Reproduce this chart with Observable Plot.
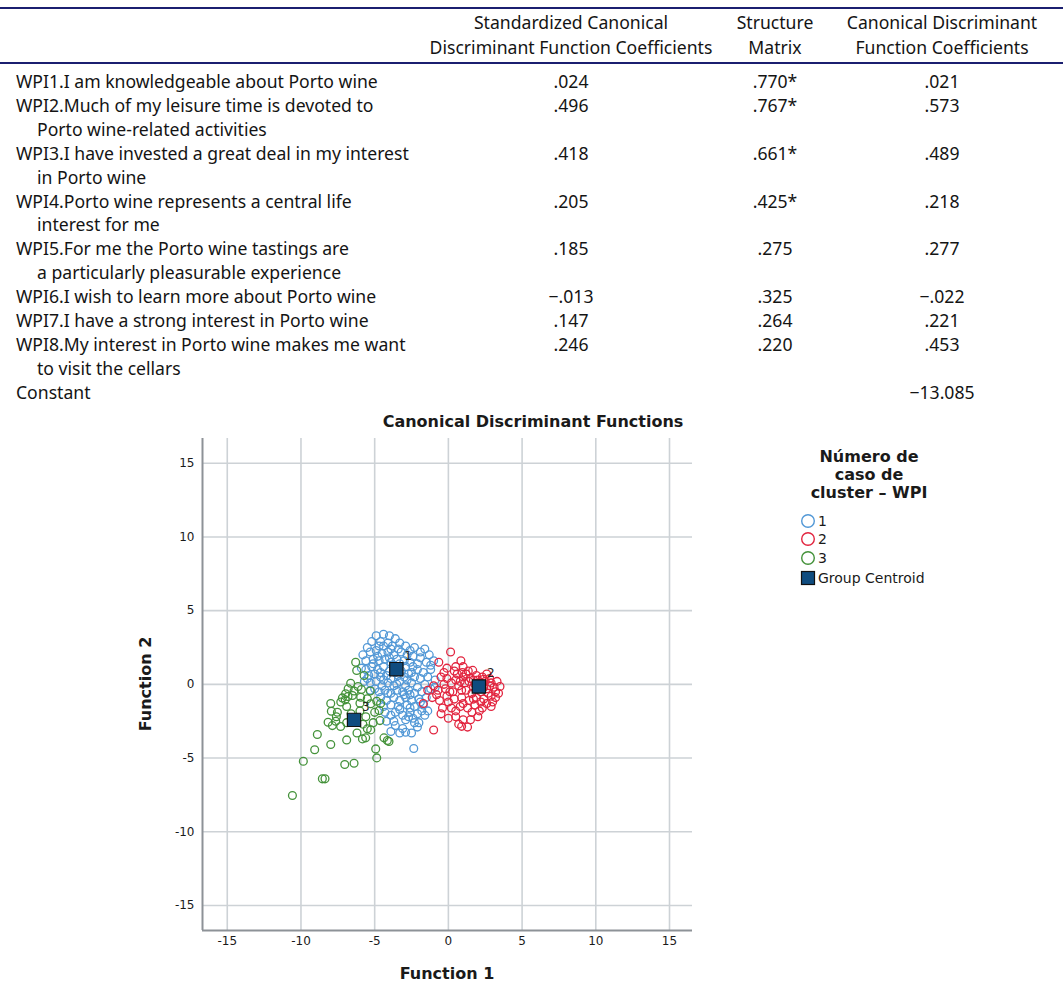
<!DOCTYPE html>
<html><head><meta charset="utf-8">
<script src="https://cdn.jsdelivr.net/npm/d3@7"></script>
<script src="https://cdn.jsdelivr.net/npm/@observablehq/plot@0.6"></script>
<style>
body{margin:0;background:#fff;}
#root{position:relative;width:1063px;height:986px;overflow:hidden;font-family:"Noto Sans",sans-serif;color:#141414;}
.t{position:absolute;white-space:nowrap;font-size:17.6px;line-height:20px;}
.rule{position:absolute;left:0;width:1063px;height:2px;background:#1b1f70;}
.ch{position:absolute;white-space:nowrap;font-family:"DejaVu Sans",sans-serif;font-weight:bold;color:#1a1a1a;line-height:18px;}
.lg{position:absolute;white-space:nowrap;font-family:"DejaVu Sans",sans-serif;font-size:14px;color:#1a1a1a;line-height:18px;}
#plot{position:absolute;left:0;top:430px;}
</style></head><body><div id="root"></div>
<script>
// ---------- table data ----------
const headerCol1 = ["Standardized Canonical", "Discriminant Function Coefficients"];
const headerCol2 = ["Structure", "Matrix"];
const headerCol3 = ["Canonical Discriminant", "Function Coefficients"];
const itemLines = [
  ["WPI1.I am knowledgeable about Porto wine"],
  ["WPI2.Much of my leisure time is devoted to", "Porto wine-related activities"],
  ["WPI3.I have invested a great deal in my interest", "in Porto wine"],
  ["WPI4.Porto wine represents a central life", "interest for me"],
  ["WPI5.For me the Porto wine tastings are", "a particularly pleasurable experience"],
  ["WPI6.I wish to learn more about Porto wine"],
  ["WPI7.I have a strong interest in Porto wine"],
  ["WPI8.My interest in Porto wine makes me want", "to visit the cellars"]
];
const stdCoef = [".024", ".496", ".418", ".205", ".185", "\u2212.013", ".147", ".246"];
const structMatrix = [".770*", ".767*", ".661*", ".425*", ".275", ".325", ".264", ".220"];
const canCoef = [".021", ".573", ".489", ".218", ".277", "\u2212.022", ".221", ".453"];
const constantLabel = "Constant";
const constantValue = "\u221213.085";

// ---------- chart data ----------
const chartTitle = "Canonical Discriminant Functions";
const xLabel = "Function 1";
const yLabel = "Function 2";
const legendTitle = ["N\u00famero de", "caso de", "cluster \u2013 WPI"];
const clusterLabels = ["1", "2", "3"];
const clusterColors = ["#5298d6", "#e2253f", "#44923a"];
const centroidLabel = "Group Centroid";
const tickValues = [-15, -10, -5, 0, 5, 10, 15];
const xDomain = [-16.68, 16.56];
const yDomain = [-16.7, 16.68];

const group1 = [
  [-4.9,3.3],[-4.4,3.4],[-4.0,3.3],[-3.6,3.1],[-5.2,2.9],[-4.6,2.9],[-4.1,2.8],[-3.3,2.8],[-2.9,2.6],[-2.3,2.5],[-1.6,2.4],[-5.5,2.5],[-3.8,2.6],[-4.4,2.6],
  [-5.8,2.0],[-5.3,2.2],[-4.9,2.3],[-4.5,2.1],[-4.1,2.2],[-3.7,2.0],[-3.2,2.2],[-2.8,2.0],[-2.4,1.9],[-1.9,1.8],[-1.3,2.0],[-1.0,1.6],[-5.6,1.6],[-5.1,1.7],[-4.7,1.6],[-4.3,1.7],[-3.9,1.5],[-3.5,1.7],[-3.0,1.6],[-2.6,1.5],[-2.1,1.4],[-1.5,1.5],
  [-5.9,1.1],[-5.6,1.0],[-5.2,1.2],[-4.8,1.0],[-4.4,1.2],[-4.0,0.9],[-3.7,1.3],[-3.2,0.9],[-2.9,1.2],[-2.5,0.8],[-2.1,1.0],[-1.7,0.8],[-1.2,1.0],[-5.4,0.6],[-5.0,0.7],[-4.6,0.5],[-4.2,0.6],[-3.9,0.4],[-3.4,0.6],[-3.0,0.5],[-2.7,0.7],[-2.3,0.5],[-1.9,0.4],[-1.4,0.5],[-0.9,0.3],
  [-5.7,0.2],[-5.3,0.1],[-4.9,0.2],[-4.5,-0.1],[-4.1,0.1],[-3.7,-0.1],[-3.3,0.2],[-2.9,-0.1],[-2.5,0.1],[-2.1,-0.2],[-1.6,0.0],[-1.2,-0.3],[-5.3,-0.4],[-5.0,-0.3],[-4.7,-0.5],[-4.3,-0.4],[-3.9,-0.6],[-3.5,-0.4],[-3.1,-0.5],[-2.7,-0.4],[-2.3,-0.6],[-1.8,-0.5],
  [-4.6,-0.9],[-4.2,-1.1],[-3.7,-0.9],[-3.3,-1.1],[-2.9,-0.9],[-2.5,-1.1],[-2.0,-1.0],[-1.5,-0.9],[-4.4,-1.5],[-3.9,-1.4],[-3.4,-1.5],[-2.8,-1.4],[-2.3,-1.5],[-1.7,-1.4],
  [-4.3,-1.9],[-3.9,-2.1],[-3.6,-1.9],[-3.1,-2.1],[-2.6,-1.9],[-2.1,-2.0],[-1.6,-2.1],[-4.2,-2.5],[-3.7,-2.5],[-2.9,-2.4],[-2.4,-2.3],
  [-3.6,-2.8],[-3.1,-3.0],[-2.9,-3.25],[-2.7,-2.2],[-2.3,-2.6],[-2.1,-2.9],[-3.9,-3.2],[-3.3,-3.3],[-2.5,-3.3],
  [-2.35,-4.35],
  [-4.7,2.6],[-3.9,2.4],[-3.4,2.4],[-2.6,2.3],[-4.8,1.9],[-4.0,1.8],[-3.3,1.4],[-2.4,1.2],[-4.6,0.8],[-3.6,0.8],[-2.8,0.3],[-4.4,0.3],[-3.5,0.0],[-3.0,-0.7],[-2.6,-0.7],[-4.1,-0.6],[-3.3,-1.7],[-2.6,-1.6],[-1.9,-1.2],[-1.4,-1.8],[-5.1,1.4],[-5.5,0.4],[-1.9,2.2],[-1.2,1.3],[-0.9,-0.2],[-2.0,-2.6],[-1.8,-1.8]
];
const group2 = [
  [0.15,2.2],[-0.65,1.5],[0.85,1.6],[-0.1,1.1],[0.4,0.9],[0.95,0.8],[1.35,0.9],[1.65,0.95],
  [-0.5,0.5],[-0.1,0.4],[0.5,0.3],[1.0,0.5],[1.5,0.4],[2.0,0.3],[2.5,0.2],[2.9,0.1],
  [-1.0,-0.1],[-0.7,-0.4],[-0.2,-0.3],[0.3,-0.5],[0.7,-0.1],[1.2,-0.4],[1.7,-0.2],[2.2,-0.5],[2.6,-0.3],[3.1,-0.2],[3.5,-0.15],
  [-1.4,-0.4],[-1.1,-0.9],[-0.6,-1.1],[-0.1,-0.8],[0.4,-1.0],[0.9,-0.9],[1.4,-1.1],[1.9,-0.9],[2.4,-1.0],[2.9,-0.8],
  [-1.7,-1.3],[-0.4,-1.6],[0.2,-1.6],[0.8,-1.5],[1.3,-1.6],[1.8,-1.4],[2.3,-1.6],
  [0.0,-2.3],[0.5,-2.2],[1.0,-2.4],[1.3,-2.9],[0.9,-2.85],[-1.0,-3.1],
  [1.8,0.0],[2.2,0.1],[2.4,-0.2],[2.0,-0.3],[1.6,-0.6],[2.7,-0.6],[3.2,-0.5],[2.8,0.4],[2.3,0.5],[1.9,0.6],[1.4,0.2],[1.1,0.1],[3.3,0.2],[2.6,-1.3],[3.0,-1.2],[0.6,0.7],[0.2,0.1],[-0.3,0.0],[1.0,-1.3],[1.6,-1.9],[2.1,-1.8],[0.5,-1.8],[-0.5,-2.0],[0.0,-1.2],
  [1.7,0.3],[2.4,0.35],[2.8,-0.1],[3.2,-0.9],[2.2,-1.2],[1.7,-1.0],[1.2,0.7],[0.8,0.2],[3.4,-0.6],[2.9,-1.5],[2.0,-2.2],[1.5,-2.4],[0.7,-2.7],[2.6,0.7],[0.5,1.2],[1.0,1.2],[-0.3,0.8],[0.1,-0.5],[0.9,-0.4],[-0.8,-0.7]
];
const group3 = [
  [-6.29,1.5],[-6.22,0.94],[-5.72,0.6],[-6.63,0.07],[-6.13,-0.15],[-6.97,-0.64],[-7.19,-0.92],[-6.81,-0.83],[-6.51,-0.76],[-5.95,-0.87],[-5.5,-0.98],[-4.86,-1.15],[-6.0,-1.28],[-5.27,-1.32],
  [-7.94,-1.82],[-7.53,-1.89],[-4.7,-1.78],[-4.64,-2.46],[-8.16,-2.57],[-7.87,-2.8],[-7.31,-2.86],[-5.5,-3.02],[-5.27,-3.09],[-8.89,-3.4],[-6.9,-3.77],[-5.83,-3.7],[-5.61,-3.63],
  [-4.37,-3.63],[-4.14,-3.81],[-4.03,-3.88],[-7.98,-4.08],[-9.07,-4.44],[-4.93,-4.38],[-4.86,-4.99],[-9.84,-5.22],[-7.03,-5.44],[-6.4,-5.35],[-8.55,-6.41],[-8.37,-6.41],[-10.58,-7.54],
  [-6.8,-0.3],[-6.4,-0.45],[-5.9,-0.35],[-7.3,-1.2],[-6.9,-1.5],[-6.0,-1.8],[-5.6,-2.2],[-7.6,-2.2],[-6.6,-2.0],[-5.1,-2.6],[-6.2,-3.3],[-5.3,-0.45],[-7.0,-1.05],[-6.9,-2.6],[-7.98,-1.3],[-7.64,-2.5],[-5.8,-2.7],[-5.0,-1.9],[-4.6,-1.3]
];
const centroids = [
  {x: -3.53, y: 1.03, label: "1"},
  {x: 2.07, y: -0.15, label: "2"},
  {x: -6.4, y: -2.41, label: "3"}
];

// ---------- build table ----------
const root = document.getElementById("root");
function addDiv(cls, txt, left, yc, center, extra) {
  const d = document.createElement("div");
  d.className = cls;
  d.textContent = txt;
  d.style.left = left + "px";
  d.style.top = (yc - 10) + "px";
  if (center) d.style.transform = "translateX(-50%)";
  if (extra) Object.assign(d.style, extra);
  root.appendChild(d);
  return d;
}
const r1 = document.createElement("div"); r1.className = "rule"; r1.style.top = "7px"; root.appendChild(r1);
const r2 = document.createElement("div"); r2.className = "rule"; r2.style.top = "62px"; root.appendChild(r2);

const colX = [571, 775, 942];
[headerCol1, headerCol2, headerCol3].forEach((h, i) => {
  h.forEach((line, j) => addDiv("t", line, colX[i], 22 + j * 25, true));
});
const lineStep = 23.9;
let li = 0;
itemLines.forEach((lines, i) => {
  const yc = 81 + li * lineStep;
  lines.forEach((line, j) => addDiv("t", line, j === 0 ? 16 : 37, yc + j * lineStep, false));
  addDiv("t", stdCoef[i], colX[0], yc, true);
  addDiv("t", structMatrix[i], colX[1], yc, true);
  addDiv("t", canCoef[i], colX[2], yc, true);
  li += lines.length;
});
const ycConst = 81 + li * lineStep;
addDiv("t", constantLabel, 16, ycConst, false);
addDiv("t", constantValue, colX[2], ycConst, true);

// ---------- chart ----------
const data = [
  ...group1.map(([x, y]) => ({x, y, g: clusterLabels[0]})),
  ...group2.map(([x, y]) => ({x, y, g: clusterLabels[1]})),
  ...group3.map(([x, y]) => ({x, y, g: clusterLabels[2]}))
];
const chart = Plot.plot({
  width: 720, height: 540,
  marginLeft: 202, marginRight: 28, marginTop: 8, marginBottom: 40,
  style: {fontFamily: "DejaVu Sans, sans-serif", fontSize: "12px", color: "#1a1a1a", background: "transparent"},
  x: {domain: xDomain, ticks: tickValues, tickSize: 0, tickPadding: 6, tickFormat: d => String(d), label: null},
  y: {domain: yDomain, ticks: tickValues, tickSize: 0, tickPadding: 8, tickFormat: d => String(d), label: null},
  color: {domain: clusterLabels, range: clusterColors},
  marks: [
    Plot.ruleX(tickValues, {stroke: "#cdd2d6", strokeWidth: 1.6}),
    Plot.ruleY(tickValues, {stroke: "#cdd2d6", strokeWidth: 1.6}),
    Plot.ruleX([xDomain[0]], {stroke: "#8d9297", strokeWidth: 2}),
    Plot.ruleY([yDomain[0]], {stroke: "#8d9297", strokeWidth: 2}),
    Plot.dot(data, {x: "x", y: "y", stroke: "g", r: 3.9, strokeWidth: 1.3, fill: "none"}),
    Plot.dot(centroids, {x: "x", y: "y", symbol: "square", r: 7.5, fill: "#0f4c7f", stroke: "#111", strokeWidth: 1.2}),
    Plot.text(centroids, {x: "x", y: "y", text: "label", dx: 8, dy: -13, textAnchor: "start", fontSize: 12, fill: "#222"})
  ]
});
chart.id = "plot";
root.appendChild(chart);

// titles & axis labels
addDiv("ch", chartTitle, 533, 423, true, {fontSize: "16px"});
addDiv("ch", xLabel, 447, 975, true, {fontSize: "16px"});
const yl = addDiv("ch", yLabel, 146, 685, false, {fontSize: "16px"});
yl.style.transform = "translate(-50%,0) rotate(-90deg)";
yl.style.transformOrigin = "50% 50%";

// legend
legendTitle.forEach((line, i) => addDiv("ch", line, 869, 457 + i * 18, true, {fontSize: "16px", top: (457 + i * 18 - 9) + "px"}));
const legendItems = clusterLabels.map((l, i) => ({label: l, color: clusterColors[i]}));
legendItems.forEach((it, i) => {
  const yc = 521 + i * 18.3;
  const d = addDiv("lg", "", 800, yc, false, {top: (yc - 9) + "px"});
  d.innerHTML = `<svg width="16" height="16" style="position:absolute;left:0;top:1px"><circle cx="8" cy="8" r="6.3" fill="none" stroke="${it.color}" stroke-width="1.4"/></svg><span style="position:absolute;left:18px;top:0">${it.label}</span>`;
});
{
  const yc = 578;
  const d = addDiv("lg", "", 800, yc, false, {top: (yc - 9) + "px"});
  d.innerHTML = `<svg width="16" height="16" style="position:absolute;left:0;top:1px"><rect x="1.5" y="1.5" width="13" height="13" fill="#0f4c7f" stroke="#111" stroke-width="1.2"/></svg><span style="position:absolute;left:18px;top:0">${centroidLabel}</span>`;
}
</script></body></html>
